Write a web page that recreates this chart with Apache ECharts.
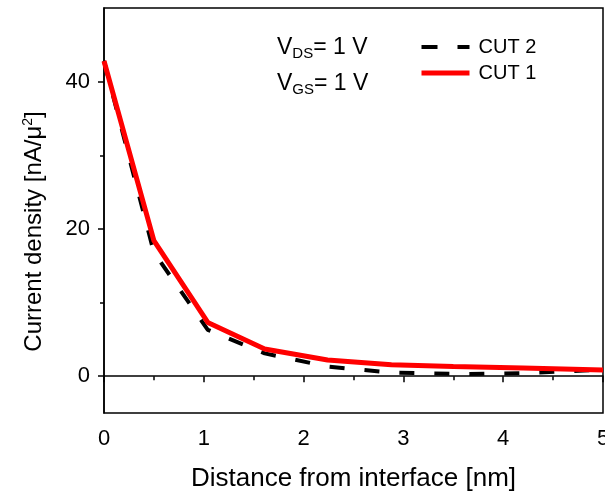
<!DOCTYPE html>
<html><head><meta charset="utf-8">
<script src="https://cdn.jsdelivr.net/npm/echarts@6/dist/echarts.min.js"></script>
<style>html,body{margin:0;padding:0;background:#fff}#c{width:605px;height:492px}</style>
</head><body><div id="c"></div>
<script>
// Data
const cut1X = [0, 0.5, 1.04, 1.61, 2.24, 2.88, 3.5, 4.2, 5];
const cut1Y = [42.8, 18.4, 7.3, 3.7, 2.2, 1.55, 1.3, 1.1, 0.85];
const cut2X = [0, 0.5, 1.04, 1.61, 2.24, 2.88, 3.6, 4.2, 5];
const cut2Y = [42.8, 16.8, 6.3, 3.1, 1.3, 0.5, 0.3, 0.4, 0.9];
const yMajorTicks = [0, 20, 40];
const yMinorTicks = [10, 30];
const xTicks = [0, 1, 2, 3, 4, 5];

const pair = (xs, ys) => xs.map((x, i) => [x, ys[i]]);
const FONT = 'Liberation Sans, Arial, sans-serif';
const chart = echarts.init(document.getElementById('c'));
chart.setOption({
  animation: false,
  backgroundColor: '#fff',
  grid: { left: 104, right: 2, top: 8, bottom: 79, outerBoundsMode: 'none', containLabel: false,
    show: true, borderColor: '#000', borderWidth: 1.5 },
  legend: {
    orient: 'vertical', left: 414, top: 32, itemWidth: 48, itemHeight: 14, itemGap: 6,
    data: [
      { name: 'CUT 2', itemStyle: { opacity: 0 }, lineStyle: { color: '#000', width: 4, type: [16, 20] } },
      { name: 'CUT 1', itemStyle: { opacity: 0 }, lineStyle: { color: '#ff0000', width: 5, type: 'solid' } }
    ],
    textStyle: { fontFamily: FONT, fontSize: 20, color: '#000', padding: [0, 0, 0, 4] }
  },
  xAxis: {
    type: 'value', min: 0, max: 5, interval: 1,
    axisLine: { lineStyle: { color: '#000', width: 1.5 } },
    axisTick: { show: true, length: 6, inside: false, lineStyle: { color: '#000', width: 1.5 } },
    minorTick: { show: true, splitNumber: 2, length: 4, lineStyle: { color: '#000', width: 1.5 } },
    splitLine: { show: false },
    axisLabel: { color: '#000', fontFamily: FONT, fontSize: 22, margin: 15,
      formatter: v => xTicks.includes(v) ? String(v) : '' },
    name: 'Distance from interface [nm]', nameLocation: 'middle', nameGap: 53,
    nameTextStyle: { color: '#000', fontFamily: FONT, fontSize: 26 }
  },
  yAxis: [{
    type: 'value', min: -5, max: 50,
    axisLine: { show: true, lineStyle: { color: '#000', width: 1.5 } },
    axisTick: { show: true, length: 6, customValues: yMajorTicks, lineStyle: { color: '#000', width: 1.5 } },
    splitLine: { show: false },
    axisLabel: { color: '#000', fontFamily: FONT, fontSize: 22, margin: 14, customValues: yMajorTicks },
    name: '{t|Current density [nA/μ}{s|2}{t|]}', nameLocation: 'middle', nameGap: 57,
    nameTextStyle: { padding: [0, 42, 0, 0], rich: {
      t: { color: '#000', fontFamily: FONT, fontSize: 24 },
      s: { color: '#000', fontFamily: FONT, fontSize: 14, verticalAlign: 'top', padding: [0, 0, 12, 0] }
    } }
  }, {
    type: 'value', min: -5, max: 50, position: 'left',
    axisLine: { show: false },
    axisTick: { show: true, length: 4, customValues: yMinorTicks, lineStyle: { color: '#000', width: 1.5 } },
    axisLabel: { show: false }, splitLine: { show: false }
  }],
  graphic: [
    { type: 'text', left: 277, top: 36, style: { text: '{v|V}{s|DS}{v|= 1 V}', rich: {
      v: { fontFamily: FONT, fontSize: 23, fill: '#000' },
      s: { fontFamily: FONT, fontSize: 15, fill: '#000', verticalAlign: 'bottom', padding: [12, 0, 0, 0] } } } },
    { type: 'text', left: 277, top: 72, style: { text: '{v|V}{s|GS}{v|= 1 V}', rich: {
      v: { fontFamily: FONT, fontSize: 23, fill: '#000' },
      s: { fontFamily: FONT, fontSize: 15, fill: '#000', verticalAlign: 'bottom', padding: [12, 0, 0, 0] } } } }
  ],
  series: [
    { name: 'CUT 2', type: 'line', data: pair(cut2X, cut2Y), showSymbol: false, symbol: 'none',
      lineStyle: { color: '#000', width: 4, type: [15, 20] }, itemStyle: { color: '#000' }, z: 2 },
    { name: 'CUT 1', type: 'line', data: pair(cut1X, cut1Y), showSymbol: false, symbol: 'none',
      lineStyle: { color: '#ff0000', width: 5 }, itemStyle: { color: '#ff0000' }, z: 3 }
  ]
});
</script></body></html>
